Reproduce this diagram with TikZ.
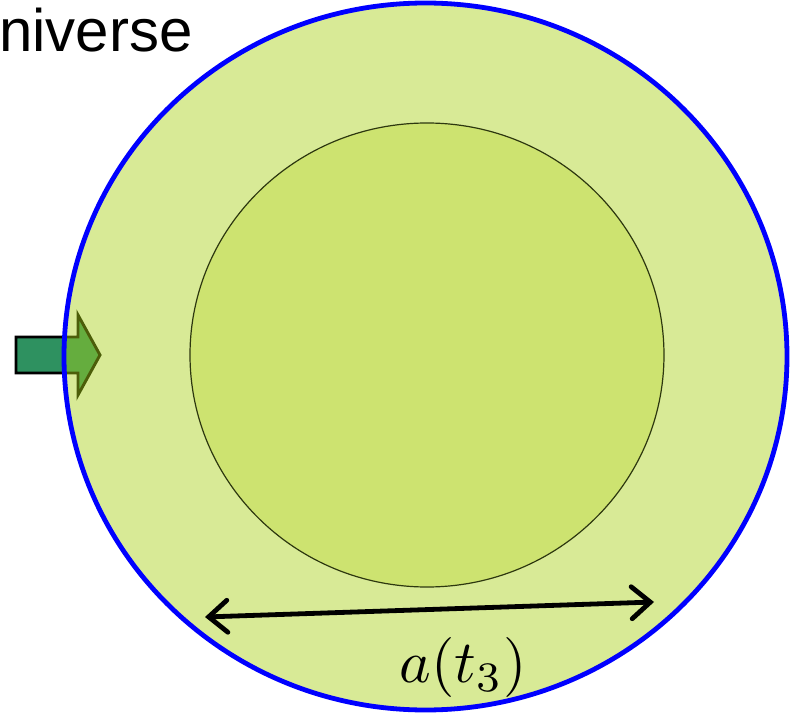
\documentclass[tikz,border=0pt]{standalone}
\usepackage{fontspec}
\setsansfont{Liberation Sans}
\usetikzlibrary{shapes.geometric,arrows.meta}
\definecolor{arrowgreen}{RGB}{46,145,96}
\definecolor{outerfill}{RGB}{169,209,22}
\definecolor{innerfill}{RGB}{205,227,112}
\definecolor{innerline}{RGB}{45,55,15}
\definecolor{ringblue}{RGB}{0,0,255}
\tikzset{
  outerring/.style={ellipse, draw=ringblue, line width=3.6pt, fill=outerfill, fill opacity=0.45, draw opacity=1, minimum width=542.25pt, minimum height=530.25pt, inner sep=0pt},
  innerring/.style={ellipse, draw=innerline, line width=0.9pt, fill=innerfill, minimum width=355.5pt, minimum height=348pt, inner sep=0pt},
  blockarrow/.style={draw=black, line width=2.2pt, fill=arrowgreen, line join=miter},
  span/.style={line width=3.6pt, {Straight Barb[length=14pt,width=24pt,line cap=round]}-{Straight Barb[length=14pt,width=24pt,line cap=round]}, line cap=round},
  biglabel/.style={font=\sffamily\fontsize{45}{50}\selectfont, inner sep=0pt, anchor=base west},
  mathlabel/.style={inner sep=0pt, scale=4.5}
}
\begin{document}
\begin{tikzpicture}[x=0.75pt,y=-0.75pt]
\useasboundingbox (0,0) rectangle (797,713);
% block arrow (under the translucent fill)
\draw[blockarrow] (16,337) -- (78,337) -- (78,315) -- (100,355) -- (78,395) -- (78,373) -- (16,373) -- cycle;
\node[outerring] (outer) at (425.5,356.5) {};
\node[innerring] (inner) at (427,355) {};
\coordinate (L) at (205,617);
\coordinate (R) at (654,602);
\draw[span] (L) -- (R);
\node[mathlabel] (lab) at (463,667) {$a(t_3)$};
\node[biglabel] (title) at (-1,52) {niverse};
\end{tikzpicture}
\end{document}
